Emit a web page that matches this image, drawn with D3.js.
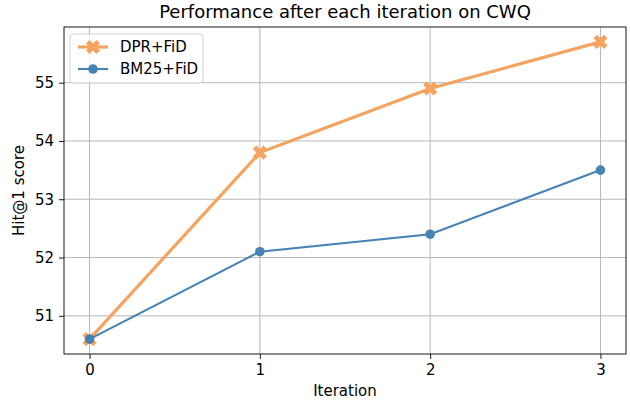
<!DOCTYPE html>
<html>
<head>
<meta charset="utf-8">
<script src="https://cdn.jsdelivr.net/npm/d3@7"></script>
<style>
  body { margin: 0; background: #fff; }
  svg { font-family: "DejaVu Sans", sans-serif; }
</style>
</head>
<body>
<div id="chart"></div>
<script>
const iterations = [0, 1, 2, 3];
const dprFid = [50.6, 53.8, 54.9, 55.7];
const bm25Fid = [50.6, 52.1, 52.4, 53.5];
const yTicks = [51, 52, 53, 54, 55];
const seriesNames = ["DPR+FiD", "BM25+FiD"];

const width = 630, height = 405;
const margin = { top: 27, right: 4, bottom: 51, left: 64 };
const w = width - margin.left - margin.right;
const h = height - margin.top - margin.bottom;

const svg = d3.select("#chart").append("svg")
  .attr("width", width).attr("height", height);

const g = svg.append("g").attr("transform", `translate(${margin.left},${margin.top})`);

// matplotlib style 5% margins
const x = d3.scaleLinear().domain([-0.15, 3.15]).range([0, w]);
const yMin = 50.6, yMax = 55.7, pad = (yMax - yMin) * 0.05;
const y = d3.scaleLinear().domain([yMin - pad, yMax + pad]).range([h, 0]);

// Grid
g.append("g").selectAll("line").data(iterations).enter().append("line")
  .attr("x1", d => x(d)).attr("x2", d => x(d))
  .attr("y1", 0).attr("y2", h)
  .attr("stroke", "#b0b0b0").attr("stroke-width", 0.9);
g.append("g").selectAll("line").data(yTicks).enter().append("line")
  .attr("y1", d => y(d)).attr("y2", d => y(d))
  .attr("x1", 0).attr("x2", w)
  .attr("stroke", "#b0b0b0").attr("stroke-width", 0.9);

// Axes
const xAxis = g.append("g").attr("transform", `translate(0,${h})`)
  .call(d3.axisBottom(x).tickValues(iterations).tickFormat(d3.format("d")).tickSizeOuter(0).tickSize(5).tickPadding(5));
const yAxis = g.append("g")
  .call(d3.axisLeft(y).tickValues(yTicks).tickFormat(d3.format("d")).tickSizeOuter(0).tickSize(5).tickPadding(5));
[xAxis, yAxis].forEach(a => {
  a.selectAll("text").style("font-size", "15px").attr("fill", "#000")
    .style("font-family", "DejaVu Sans");
  a.selectAll(".tick line").attr("stroke", "#000").attr("stroke-width", 0.9);
  a.select(".domain").remove();
});

// Lines
const line = d3.line().x((d, i) => x(iterations[i])).y(d => y(d));

g.append("path").datum(dprFid)
  .attr("fill", "none").attr("stroke", "#f4a460").attr("stroke-width", 3.2)
  .attr("d", line);

const xMarker = d3.symbol().type(d3.symbolCross).size(125);
g.selectAll(".dpr").data(dprFid).enter().append("path")
  .attr("d", xMarker)
  .attr("transform", (d, i) => `translate(${x(iterations[i])},${y(d)}) rotate(45)`)
  .attr("fill", "#f4a460");

g.append("path").datum(bm25Fid)
  .attr("fill", "none").attr("stroke", "#4682b4").attr("stroke-width", 2.1)
  .attr("d", line);

g.selectAll(".bm").data(bm25Fid).enter().append("circle")
  .attr("cx", (d, i) => x(iterations[i])).attr("cy", d => y(d))
  .attr("r", 4.8).attr("fill", "#4682b4");

// Frame
g.append("rect").attr("width", w).attr("height", h)
  .attr("fill", "none").attr("stroke", "#000").attr("stroke-width", 0.9);

// Legend
const leg = g.append("g").attr("transform", "translate(6,7)");
leg.append("rect").attr("width", 133).attr("height", 49).attr("rx", 3)
  .attr("fill", "#fff").attr("fill-opacity", 0.8)
  .attr("stroke", "#cccccc").attr("stroke-width", 0.9);
const colors = ["#f4a460", "#4682b4"];
seriesNames.forEach((name, i) => {
  const ly = 13 + i * 22;
  leg.append("line").attr("x1", 8).attr("x2", 38).attr("y1", ly).attr("y2", ly)
    .attr("stroke", colors[i]).attr("stroke-width", i === 0 ? 3.2 : 2.1);
  if (i === 0) {
    leg.append("path").attr("d", xMarker)
      .attr("transform", `translate(23,${ly}) rotate(45)`).attr("fill", colors[i]);
  } else {
    leg.append("circle").attr("cx", 23).attr("cy", ly).attr("r", 4.8).attr("fill", colors[i]);
  }
  leg.append("text").attr("x", 50).attr("y", ly).attr("dy", "0.36em")
    .style("font-size", "15px").text(name);
});

// Title and labels
svg.append("text").attr("x", margin.left + w / 2).attr("y", 18)
  .attr("text-anchor", "middle").style("font-size", "18px")
  .text("Performance after each iteration on CWQ");
svg.append("text").attr("x", margin.left + w / 2).attr("y", 396)
  .attr("text-anchor", "middle").style("font-size", "15px")
  .text("Iteration");
svg.append("text")
  .attr("transform", `translate(24,${margin.top + h / 2}) rotate(-90)`)
  .attr("text-anchor", "middle").style("font-size", "15px")
  .text("Hit@1 score");
</script>
</body>
</html>
